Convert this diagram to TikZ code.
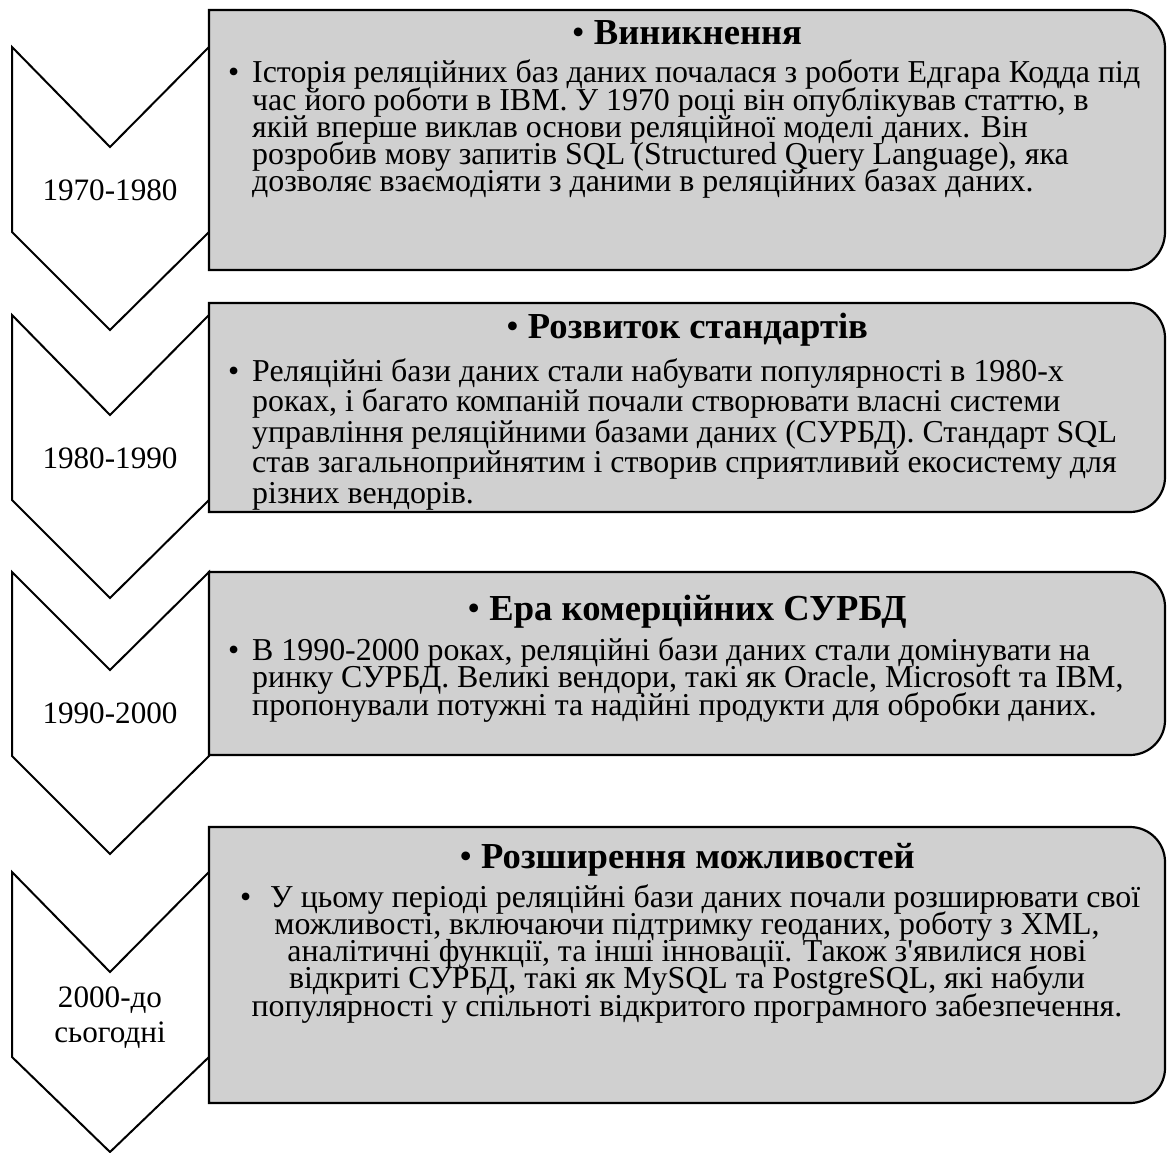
\documentclass[tikz,border=0pt]{standalone}
\usepackage{fontspec}
\setmainfont{Liberation Serif}
\definecolor{boxgray}{RGB}{208,208,208}
\newlength\calw
\begin{document}
\settowidth\calw{\fontsize{10}{12}\selectfont Історія реляційних баз даних почалася з роботи Едгара Кодда під}%
\pgfmathsetmacro\bodyfs{10*888/\calw}%
\settowidth\calw{\fontsize{10}{12}\selectfont\bfseries Розвиток стандартів}%
\pgfmathsetmacro\headfs{10*340/\calw}%
\settowidth\calw{\fontsize{10}{12}\selectfont 1970-1980}%
\pgfmathsetmacro\labfs{10*135/\calw}%
\begin{tikzpicture}[x=1pt,y=-1pt,
  chev/.style={draw=black,line width=2pt,fill=white,line join=miter},
  stagebox/.style={draw=black,line width=2.2pt,fill=boxgray},
  bodytext/.style={inner sep=0pt,anchor=base west,text height=18pt,text depth=5pt,font=\fontsize{\bodyfs}{27}\selectfont},
  ctrtext/.style={inner sep=0pt,anchor=base,text height=18pt,text depth=5pt,font=\fontsize{\bodyfs}{27}\selectfont},
  headtext/.style={inner sep=0pt,anchor=base,font=\fontsize{\headfs}{27}\selectfont},
  labtext/.style={inner sep=0pt,anchor=base,text height=18pt,text depth=5pt,font=\fontsize{\labfs}{30}\selectfont}]
\useasboundingbox[fill=white] (0,0) rectangle (1167,1153);
% chevrons
\draw[chev] (12,47) -- (110,147) -- (209,47) -- (209,232) -- (110,330) -- (12,232) -- cycle;
\draw[chev] (12,315) -- (110,415) -- (209,315) -- (209,500) -- (110,598) -- (12,500) -- cycle;
\draw[chev] (12,572) -- (110,670) -- (209,572) -- (209,756) -- (110,854) -- (12,756) -- cycle;
\draw[chev] (12,872) -- (110,972) -- (209,872) -- (209,1057) -- (110,1152) -- (12,1057) -- cycle;
% boxes
\draw[stagebox] (209,10) -- (1127,10) arc[start angle=270,end angle=360,radius=38] -- (1165,232) arc[start angle=0,end angle=90,radius=38] -- (209,270) -- cycle;
\draw[stagebox] (209,303) -- (1130,303) arc[start angle=270,end angle=360,radius=35] -- (1165,477) arc[start angle=0,end angle=90,radius=35] -- (209,512) -- cycle;
\draw[stagebox] (209,572) -- (1130,572) arc[start angle=270,end angle=360,radius=35] -- (1165,720) arc[start angle=0,end angle=90,radius=35] -- (209,755) -- cycle;
\draw[stagebox] (209,827) -- (1130,827) arc[start angle=270,end angle=360,radius=35] -- (1165,1068) arc[start angle=0,end angle=90,radius=35] -- (209,1103) -- cycle;
% chevron labels
\node[labtext] (l1) at (110,200) {1970-1980};
\node[labtext] (l2) at (110,468) {1980-1990};
\node[labtext] (l3) at (110,723) {1990-2000};
\node[labtext] (l4a) at (110,1007) {2000-до};
\node[labtext] (l4b) at (110,1042) {сьогодні};
% box 1
\node[headtext] (h1) at (687,45) {•~\textbf{Виникнення}};
\node[bodytext] (u1) at (228,83) {•};
\foreach \t [count=\i from 0] in {{Історія реляційних баз даних почалася з роботи Едгара Кодда під},{час його роботи в IBM. У 1970 році він опублікував статтю, в},{якій вперше виклав основи реляційної моделі даних. Він},{розробив мову запитів SQL (Structured Query Language), яка},{дозволяє взаємодіяти з даними в реляційних базах даних.}}
  \node[bodytext] (a\i) at (252,{83+27.2*\i}) {\t};
% box 2
\node[headtext] (h2) at (687,338) {•~\textbf{Розвиток стандартів}};
\node[bodytext] (u2) at (228,381) {•};
\foreach \t [count=\i from 0] in {{Реляційні бази даних стали набувати популярності в 1980-х},{роках, і багато компаній почали створювати власні системи},{управління реляційними базами даних (СУРБД). Стандарт SQL},{став загальноприйнятим і створив сприятливий екосистему для},{різних вендорів.}}
  \node[bodytext] (b\i) at (252,{381+30.5*\i}) {\t};
% box 3
\node[headtext] (h3) at (687,620) {•~\textbf{Ера комерційних СУРБД}};
\node[bodytext] (u3) at (228,660) {•};
\foreach \t [count=\i from 0] in {{В 1990-2000 роках, реляційні бази даних стали домінувати на},{ринку СУРБД. Великі вендори, такі як Oracle, Microsoft та IBM,},{пропонували потужні та надійні продукти для обробки даних.}}
  \node[bodytext] (c\i) at (252,{660+27.5*\i}) {\t};
% box 4
\node[headtext] (h4) at (687,868) {•~\textbf{Розширення можливостей}};
\node[bodytext] (u4) at (240,907) {•};
\node[bodytext] (d0) at (270,907) {У цьому періоді реляційні бази даних почали розширювати свої};
\foreach \t [count=\i from 1] in {{можливості, включаючи підтримку геоданих, роботу з XML,},{аналітичні функції, та інші інновації. Також з\textquotesingle явилися нові},{відкриті СУРБД, такі як MySQL та PostgreSQL, які набули},{популярності у спільноті відкритого програмного забезпечення.}}
  \node[ctrtext] (d\i) at (687,{907+27.3*\i}) {\t};
\end{tikzpicture}
\end{document}
